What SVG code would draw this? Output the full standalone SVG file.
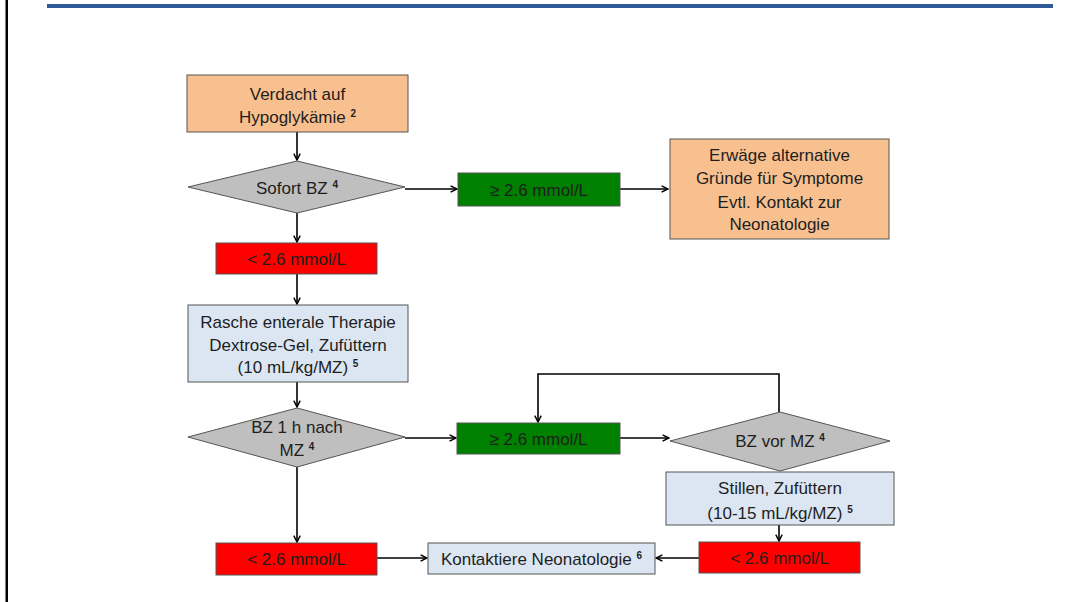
<svg xmlns="http://www.w3.org/2000/svg" width="1075" height="602" viewBox="0 0 1075 602">
<style>
.t{font-family:"Liberation Sans",Arial,sans-serif;font-size:17px;fill:#1e1e1e;text-anchor:middle}
.s{font-size:10px;font-weight:bold}
.box{stroke:#555;stroke-width:1}
.or{fill:#F9C08F}
.gr{fill:#BFBFBF}
.gn{fill:#008000}
.rd{fill:#FF0000}
.bl{fill:#DCE6F2}
.c{fill:none;stroke:#000;stroke-width:1.6;marker-end:url(#a)}
</style>
<defs>
<marker id="a" viewBox="0 0 10 10" refX="9" refY="5" markerWidth="8" markerHeight="8" markerUnits="userSpaceOnUse" orient="auto">
<path d="M1,1 L9,5 L1,9" fill="none" stroke="#000" stroke-width="1.8"/>
</marker>
</defs>
<rect x="0" y="0" width="1075" height="602" fill="#fff"/>
<rect x="47" y="4" width="1006" height="4" fill="#2F5A97"/>
<rect x="5.5" y="0" width="2.5" height="602" fill="#000"/>

<g id="connectors">
<path class="c" d="M297,132 V160"/>
<path class="c" d="M405,189 H457"/>
<path class="c" d="M620,189 H668"/>
<path class="c" d="M297,213 V242"/>
<path class="c" d="M297,274 V304"/>
<path class="c" d="M297,382 V407"/>
<path class="c" d="M405,438 H456"/>
<path class="c" d="M620,438 H669"/>
<path class="c" d="M779,412 V374 H538 V422"/>
<path class="c" d="M297,467 V542"/>
<path class="c" d="M779,525 V541"/>
<path class="c" d="M377,558 H427"/>
<path class="c" d="M699,558 H656"/>
</g>

<g id="n1">
<rect class="box or" x="187" y="75" width="221" height="57"/>
<text class="t" x="297.5" y="100">Verdacht auf</text>
<text class="t" x="297.5" y="123">Hypoglykämie <tspan class="s" dy="-6">2</tspan></text>
</g>
<g id="n2">
<polygon class="box gr" points="297,161 405,187 297,213 188,187"/>
<text class="t" x="297" y="194">Sofort BZ <tspan class="s" dy="-6">4</tspan></text>
</g>
<g id="n3">
<rect class="box gn" x="458" y="173" width="162" height="33"/>
<text class="t" x="539" y="196">≥ 2.6 mmol/L</text>
</g>
<g id="n4">
<rect class="box or" x="670" y="139" width="219" height="100"/>
<text class="t" x="779.5" y="161">Erwäge alternative</text>
<text class="t" x="779.5" y="184">Gründe für Symptome</text>
<text class="t" x="779.5" y="208">Evtl. Kontakt zur</text>
<text class="t" x="779.5" y="230">Neonatologie</text>
</g>
<g id="n5">
<rect class="box rd" x="216" y="243" width="161" height="31"/>
<text class="t" x="296.5" y="265">&lt; 2.6 mmol/L</text>
</g>
<g id="n6">
<rect class="box bl" x="188" y="305" width="220" height="77"/>
<text class="t" x="298" y="328">Rasche enterale Therapie</text>
<text class="t" x="298" y="351">Dextrose-Gel, Zufüttern</text>
<text class="t" x="298" y="373">(10 mL/kg/MZ) <tspan class="s" dy="-6">5</tspan></text>
</g>
<g id="n7">
<polygon class="box gr" points="297,408 405,437 297,467 188,437"/>
<text class="t" x="297" y="433">BZ 1 h nach</text>
<text class="t" x="297" y="456">MZ <tspan class="s" dy="-6">4</tspan></text>
</g>
<g id="n8">
<rect class="box gn" x="457" y="423" width="163" height="31"/>
<text class="t" x="538.5" y="445">≥ 2.6 mmol/L</text>
</g>
<g id="n9">
<polygon class="box gr" points="780,412 890,441 780,471 670,441"/>
<text class="t" x="780" y="447">BZ vor MZ <tspan class="s" dy="-6">4</tspan></text>
</g>
<g id="n10">
<rect class="box bl" x="666" y="472" width="228" height="53"/>
<text class="t" x="780" y="494">Stillen, Zufüttern</text>
<text class="t" x="780" y="519">(10-15 mL/kg/MZ) <tspan class="s" dy="-6">5</tspan></text>
</g>
<g id="n11">
<rect class="box rd" x="216" y="543" width="161" height="32"/>
<text class="t" x="296.5" y="565">&lt; 2.6 mmol/L</text>
</g>
<g id="n12">
<rect class="box bl" x="428" y="543" width="227" height="31"/>
<text class="t" x="541.5" y="565">Kontaktiere Neonatologie <tspan class="s" dy="-6">6</tspan></text>
</g>
<g id="n13">
<rect class="box rd" x="699" y="542" width="161" height="31"/>
<text class="t" x="779.5" y="564">&lt; 2.6 mmol/L</text>
</g>
</svg>
